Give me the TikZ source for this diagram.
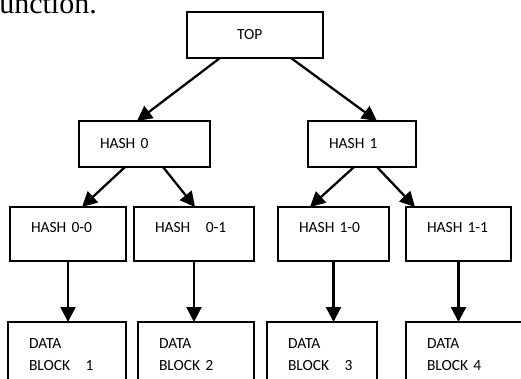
\documentclass[tikz,border=0pt]{standalone}
\usepackage{fontspec}
\setmainfont{Carlito}
\newfontfamily\serifpart{Liberation Serif}
\usetikzlibrary{arrows.meta,calc,positioning}

\begin{document}
\begin{tikzpicture}[x=1pt,y=-1pt,font=\fontsize{15.5}{22}\selectfont,>={Triangle[length=15pt,width=15pt]},
  box/.style={draw,line width=1.6pt,rectangle,inner xsep=21pt,inner ysep=0pt,outer sep=0pt,align=left},
  hashbox/.style={box,minimum height=#1},
  datablock/.style={box,minimum height=66pt},
  link/.style={->,line width=2.3pt}]
\useasboundingbox (0,0) rectangle (521,378);
\clip (0,0) rectangle (521,378);
% text of the page above
\node[font=\serifpart\fontsize{30}{30}\selectfont,anchor=base east,inner sep=0pt] (caption) at (97,13) {function.};
% root
\node[box,inner xsep=0pt,text width=136pt,minimum height=46pt] (top) at (255,35) {\hspace*{50pt}TOP};
% first level
\node[hashbox=46pt,text width=89pt] (hash0) at (144.5,144) {HASH 0};
\node[hashbox=46pt,text width=66pt] (hash1) at (362,144) {HASH 1};
% second level
\node[hashbox=54pt,text width=74pt,text depth=13pt] (hash00) at (68,234) {HASH 0-0};
\node[hashbox=54pt,text width=78pt,text depth=13pt] (hash01) at (194,234) {HASH\ \ \ 0-1};
\node[hashbox=54pt,text width=69pt,text depth=13pt] (hash10) at (333.5,234) {HASH 1-0};
\node[hashbox=54pt,text width=63pt,text depth=13pt] (hash11) at (458.5,234) {HASH 1-1};
% data blocks
\node[datablock,text width=76pt] (data1) at (67,355) {DATA\\BLOCK\ \ \ 1};
\node[datablock,text width=74pt] (data2) at (196,355) {DATA\\BLOCK 2};
\node[datablock,text width=68pt] (data3) at (322,355) {DATA\\BLOCK\ \ \ 3};
\node[datablock,text width=88pt] (data4) at (471,355) {DATA\\BLOCK 4};
% connectors
\draw[link] ([xshift=-35pt]top.south) -- ([xshift=-7.5pt]hash0.north);
\draw[link] ([xshift=36pt]top.south) -- ([xshift=15pt]hash1.north);
\draw[link] ([xshift=-19.5pt]hash0.south) -- ([xshift=14pt]hash00.north);
\draw[link] ([xshift=18.5pt]hash0.south) -- ([xshift=1pt]hash01.north);
\draw[link] ([xshift=-8pt]hash1.south) -- ([xshift=-23.5pt]hash10.north);
\draw[link] ([xshift=15pt]hash1.south) -- ([xshift=-43.5pt]hash11.north);
\foreach \h/\d in {hash00/data1,hash01/data2,hash10/data3,hash11/data4}
  \draw[link] (\h.south) -- (\h.south |- \d.north);
\end{tikzpicture}
\end{document}
